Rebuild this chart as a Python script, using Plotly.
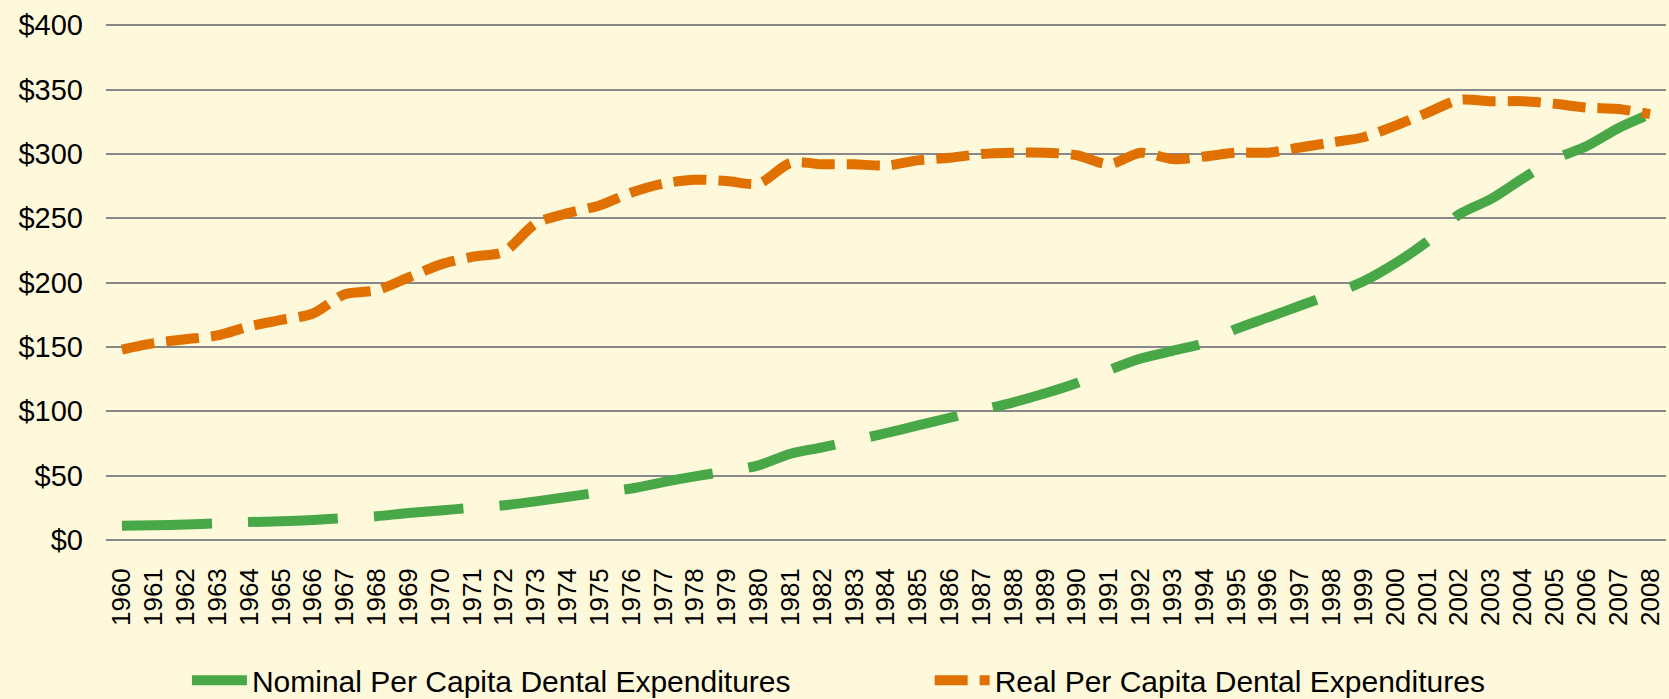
import plotly.graph_objects as go

years = [
    "1960", "1961", "1962", "1963", "1964", "1965", "1966", "1967", "1968", "1969",
    "1970", "1971", "1972", "1973", "1974", "1975", "1976", "1977", "1978", "1979",
    "1980", "1981", "1982", "1983", "1984", "1985", "1986", "1987", "1988", "1989",
    "1990", "1991", "1992", "1993", "1994", "1995", "1996", "1997", "1998", "1999",
    "2000", "2001", "2002", "2003", "2004", "2005", "2006", "2007", "2008",
]

# nominal per capita dental spending ($)
nominal = [
    11, 11.5, 12, 13, 14, 14.5, 15.5, 17, 18.5, 21,
    23, 25, 27, 30, 33.5, 37, 40, 45, 49.5, 53.5,
    58, 67, 72, 77.5, 83, 89, 95, 101, 107, 114,
    122, 132, 141, 147, 153, 164, 173, 182, 191, 201,
    215, 232, 253, 265, 281, 296, 306, 320, 331,
]

# real (inflation adjusted) per capita dental spending ($)
real = [
    148, 153, 156, 159, 166, 171, 176, 191, 194, 204,
    214, 220, 224, 246, 254, 260, 270, 277, 280, 279,
    277, 293, 292, 292, 291, 295, 297, 300, 301, 301,
    299, 292, 301, 296, 298, 301, 301, 305, 309, 313,
    322, 332, 342, 341, 341, 339, 336, 335, 331,
]

y_ticks = [0, 50, 100, 150, 200, 250, 300, 350, 400]
y_labels = ["$0", "$50", "$100", "$150", "$200", "$250", "$300", "$350", "$400"]

BG = "#FFF9DB"
GRID = "#888888"
FONT = "Arial, Liberation Sans, sans-serif"

fig = go.Figure()

fig.add_trace(go.Scatter(
    x=years,
    y=nominal,
    mode="lines",
    name="Nominal Per Capita Dental Expenditures",
    line=dict(color="#48A848", width=10, dash="90px,36px", shape="spline", smoothing=0.8),
    legend="legend",
))

fig.add_trace(go.Scatter(
    x=years,
    y=real,
    mode="lines",
    name="Real Per Capita Dental Expenditures",
    line=dict(color="#E07000", width=10, dash="33px,12px", shape="spline", smoothing=0.8),
    legend="legend2",
))

legend_style = dict(
    orientation="h",
    xref="container", yref="container",
    xanchor="left", yanchor="middle",
    y=0.027,
    font=dict(size=30, family=FONT, color="black"),
    bgcolor="rgba(0,0,0,0)",
    itemwidth=55,
)

fig.update_layout(
    width=1669,
    height=699,
    paper_bgcolor=BG,
    plot_bgcolor=BG,
    font=dict(family=FONT, color="black"),
    margin=dict(l=106, r=3, t=24, b=159, autoexpand=False),
    showlegend=True,
    legend=dict(legend_style, x=0.112),
    legend2=dict(legend_style, x=0.557),
    xaxis=dict(
        type="category",
        range=[-0.5, len(years) - 0.5],
        tickangle=-90,
        tickfont=dict(size=26, family=FONT, color="black"),
        showgrid=False,
        showline=False,
        zeroline=False,
        ticks="",
        ticklabelstandoff=22,
        automargin=False,
        fixedrange=True,
    ),
    yaxis=dict(
        range=[0, 401],
        tickmode="array",
        tickvals=y_ticks,
        ticktext=y_labels,
        tickfont=dict(size=29, family=FONT, color="black"),
        showgrid=True,
        gridcolor=GRID,
        gridwidth=2,
        zeroline=True,
        zerolinecolor=GRID,
        zerolinewidth=2,
        showline=False,
        ticks="",
        ticklabelstandoff=22,
        automargin=False,
        fixedrange=True,
    ),
)

fig.write_html(
    "out.html",
    config={"displayModeBar": False},
    post_script="document.body.style.margin='0';",
)
